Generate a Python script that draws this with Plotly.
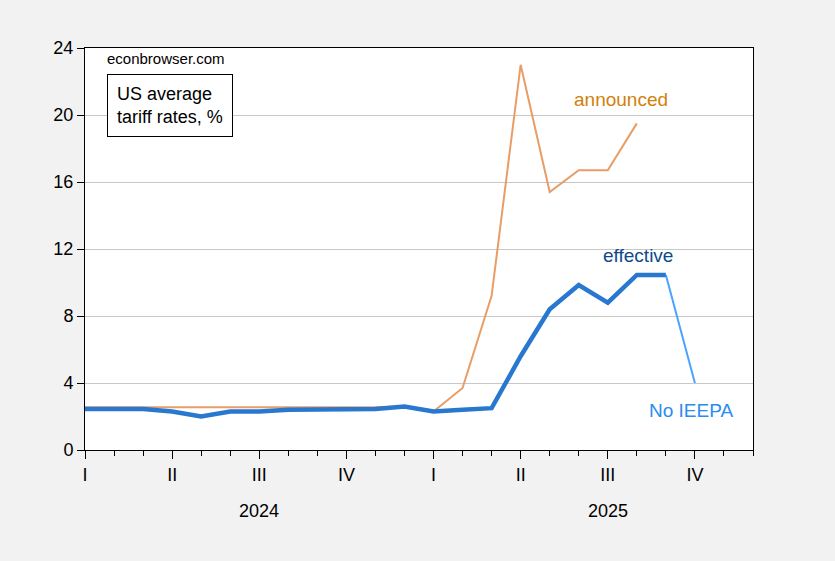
import plotly.graph_objects as go

months = [f"{y}-{m:02d}" for y in (2024, 2025) for m in range(1, 13)]
effective = [2.45, 2.45, 2.45, 2.3, 2.0, 2.3, 2.3, 2.4, 2.4, 2.45, 2.45, 2.6,
             2.3, 2.4, 2.5, 5.6, 8.4, 9.85, 8.8, 10.45, 10.45, None, None, None]
announced = [2.55, 2.55, 2.55, 2.55, 2.55, 2.55, 2.55, 2.55, 2.55, 2.55, 2.55, 2.6,
             2.3, 3.7, 9.2, 23.0, 15.4, 16.7, 16.7, 19.5, None, None, None, None]
no_ieepa = [None] * 20 + [10.45, 4.0, None, None]
quarter_labels = ["I", "II", "III", "IV", "I", "II", "III", "IV"]
year_labels = ["2024", "2025"]

x = list(range(len(months)))
font = "Liberation Sans, Arial, sans-serif"

fig = go.Figure()
fig.add_trace(go.Scatter(x=x, y=announced, mode="lines",
                         line=dict(color="#E89D66", width=2), showlegend=False))
fig.add_trace(go.Scatter(x=x, y=no_ieepa, mode="lines",
                         line=dict(color="#4BA3FF", width=2), showlegend=False))
fig.add_trace(go.Scatter(x=x, y=effective, mode="lines",
                         line=dict(color="#2878D0", width=4.5), showlegend=False))

fig.update_layout(
    width=835, height=561,
    margin=dict(l=85, r=82, t=48, b=111),
    paper_bgcolor="#F2F2F2", plot_bgcolor="white",
    font=dict(family=font, size=18, color="black"),
    xaxis=dict(range=[0, 23], tickvals=x[::3], ticktext=quarter_labels,
               ticks="outside", ticklen=8, tickcolor="black", tickwidth=1,
               minor=dict(tickvals=x, ticks="outside", ticklen=5, tickcolor="black"),
               showline=True, linecolor="black", linewidth=1, mirror=True,
               showgrid=False, zeroline=False, tickfont=dict(size=18)),
    yaxis=dict(range=[0, 24], tickvals=[0, 4, 8, 12, 16, 20, 24],
               ticks="outside", ticklen=7, tickcolor="black",
               showline=True, linecolor="black", linewidth=1, mirror=True,
               showgrid=True, gridcolor="#C8C8C8", gridwidth=1, zeroline=False,
               tickfont=dict(size=18)),
)

# year labels
for yl, xc in zip(year_labels, [6, 18]):
    fig.add_annotation(x=xc, y=-0.152, xref="x", yref="paper", text=yl,
                       showarrow=False, font=dict(size=18), yanchor="middle")

fig.add_annotation(x=0.03, y=0.975, xref="paper", yref="paper", text="econbrowser.com",
                   showarrow=False, xanchor="left", yanchor="middle", font=dict(size=15))
fig.add_annotation(x=0.0325, y=0.935, xref="paper", yref="paper",
                   text="US average<br>tariff rates, %", showarrow=False, align="left",
                   xanchor="left", yanchor="top", font=dict(size=18),
                   bordercolor="black", borderwidth=1, borderpad=9, bgcolor="white")

fig.add_annotation(x=18.45, y=20.9, text="announced", showarrow=False,
                   font=dict(size=19, color="#D0820A"))
fig.add_annotation(x=19.03, y=11.64, text="effective", showarrow=False,
                   font=dict(size=19, color="#0E4A8A"))
fig.add_annotation(x=20.86, y=2.33, text="No IEEPA", showarrow=False,
                   font=dict(size=19, color="#2A8CF0"))

fig.write_html("out.html", config={"displayModeBar": False},
               post_script="document.body.style.margin='0';document.body.style.background='#F2F2F2';")
